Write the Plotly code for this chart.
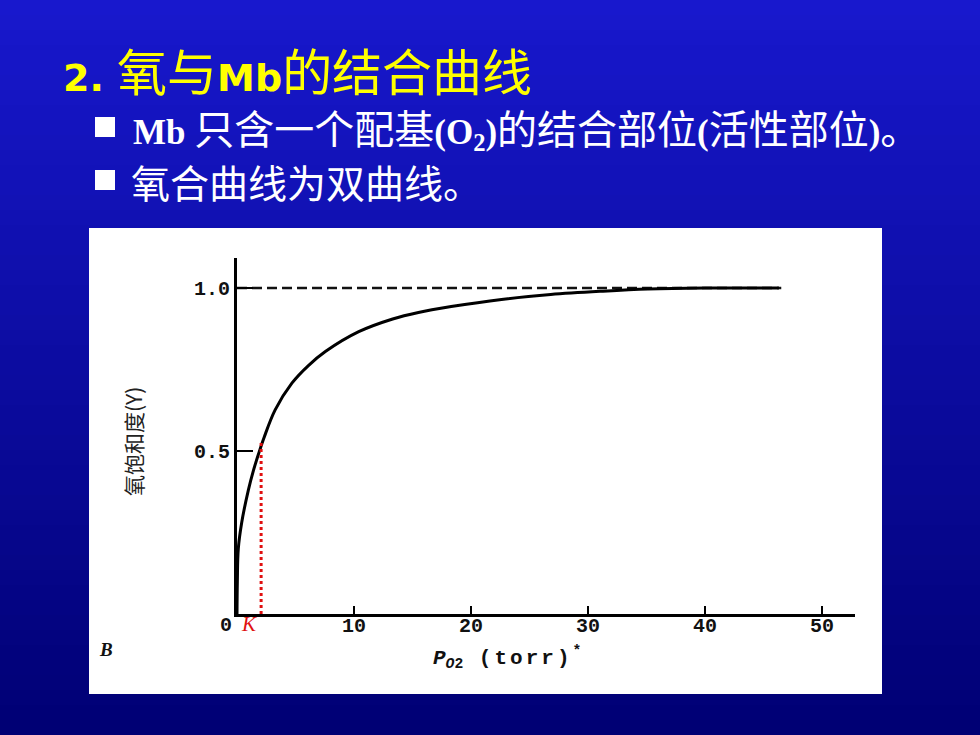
import plotly.graph_objects as go

# ---------------- data ----------------
po2_torr = [0, 0.03, 0.11, 0.4, 0.97, 1.4, 1.83, 2.3, 3.26, 4.69, 6.1, 7.55,
            10.4, 13.3, 15.5, 18.3, 22.6, 26.8, 31.1, 35.1, 40.0, 46.3]
saturation_y = [0.0, 0.10, 0.20, 0.28, 0.38, 0.44, 0.49, 0.54, 0.626, 0.708, 0.762, 0.805,
                0.866, 0.905, 0.925, 0.943, 0.965, 0.98, 0.99, 0.997, 1.0, 1.0]
max_line_x = [0, 46.5]
max_line_y = [1.0, 1.0]
k_value = 2.06
k_top_y = 0.53
x_tick_vals = [10, 20, 30, 40, 50]
x_tick_text = ["10", "20", "30", "40", "50"]
y_tick_vals = [0.5, 1.0]
y_tick_text = ["0.5", "1.0"]

W, H = 980, 735


def px(x):
    return x / W


def py(y):
    return 1 - y / H


fig = go.Figure()

fig.add_trace(go.Scatter(x=max_line_x, y=max_line_y, mode="lines",
                         line=dict(color="#111", width=2.5, dash="10px,5px"),
                         hoverinfo="skip", showlegend=False))
fig.add_trace(go.Scatter(x=po2_torr, y=saturation_y, mode="lines",
                         line=dict(color="#000", width=3, shape="spline", smoothing=1.0),
                         showlegend=False))
fig.add_trace(go.Scatter(x=[k_value, k_value], y=[0, k_top_y], mode="lines",
                         line=dict(color="#e01010", width=3, dash="dot"),
                         hoverinfo="skip", showlegend=False))

shapes = []
# background gradient (vertical)
n = 49
top = (24, 24, 205)
bot = (0, 0, 116)
for i in range(n):
    t = i / (n - 1)
    c = tuple(round(top[j] + (bot[j] - top[j]) * t) for j in range(3))
    y0 = i * H / n
    y1 = (i + 1) * H / n + 1
    shapes.append(dict(type="rect", xref="paper", yref="paper", x0=0, x1=1,
                       y0=py(min(y1, H)), y1=py(y0), line=dict(width=0),
                       fillcolor="rgb(%d,%d,%d)" % c, layer="below"))
# white figure panel
shapes.append(dict(type="rect", xref="paper", yref="paper", x0=px(89), x1=px(882),
                   y0=py(694), y1=py(228), line=dict(width=0), fillcolor="white",
                   layer="below"))
# bullets
for cy in (127, 180):
    shapes.append(dict(type="rect", xref="paper", yref="paper", x0=px(95), x1=px(115),
                       y0=py(cy + 10), y1=py(cy - 10), line=dict(width=0),
                       fillcolor="white", layer="above"))

CJK = "Noto Sans CJK SC"
SER = "font-family:Liberation Serif;font-weight:bold"
LAT = "font-family:DejaVu Sans;font-weight:bold;font-size:38px"
MONO = "Liberation Mono"
AXFONT = dict(family=MONO, size=20, color="#111", weight="bold")

annotations = [
    dict(text='<span style="%s">2. </span>氧与<span style="%s">Mb</span>的结合曲线' % (LAT, LAT),
         x=px(61), y=py(69), xanchor="left", yanchor="middle",
         font=dict(family=CJK, size=50, color="#ffff00")),
    dict(text='<span style="%s;font-size:35px">Mb </span>只含一个配基'
              '<span style="%s;font-size:35px">(O<sub style="font-size:24px">2</sub>)</span>的结合部位'
              '<span style="%s;font-size:35px">(</span>活性部位'
              '<span style="%s;font-size:35px">)</span>。' % (SER, SER, SER, SER),
         x=px(131), y=py(127), xanchor="left", yanchor="middle",
         font=dict(family=CJK, size=40, color="white")),
    dict(text="氧合曲线为双曲线。",
         x=px(129), y=py(181), xanchor="left", yanchor="middle",
         font=dict(family=CJK, size=39, color="white")),
    dict(text="氧饱和度(Y)", textangle=-90, x=px(133), y=py(442),
         xanchor="center", yanchor="middle",
         font=dict(family=CJK, size=21, color="#222")),
    dict(text='<i>P</i><sub><i>O</i>2</sub><span style="letter-spacing:3px"> (torr)</span><sup>*</sup>',
         x=px(507), y=py(657), xanchor="center", yanchor="middle",
         font=dict(family=MONO, size=21, color="#111", weight="bold")),
    dict(text="<b><i>B</i></b>", x=px(106), y=py(649), xanchor="center", yanchor="middle",
         font=dict(family="Liberation Serif", size=19, color="#111")),
    dict(text="<i>K</i>", x=px(249), y=py(624), xanchor="center", yanchor="middle",
         font=dict(family="Liberation Serif", size=21, color="#e01010")),
    dict(text="0", x=px(226), y=py(625), xanchor="center", yanchor="middle", font=AXFONT),
]
# x tick labels placed at their data positions just under the axis
for v, t in zip(x_tick_vals, x_tick_text):
    annotations.append(dict(text=t, x=v, xref="x", y=py(626), yref="paper",
                            xanchor="center", yanchor="middle", font=AXFONT))
for a in annotations:
    a.setdefault("xref", "paper")
    a.setdefault("yref", "paper")
    a.setdefault("showarrow", False)

fig.update_layout(
    width=W, height=H,
    margin=dict(l=0, r=0, t=0, b=0),
    paper_bgcolor="rgb(10,10,160)",
    plot_bgcolor="rgba(0,0,0,0)",
    shapes=shapes,
    annotations=annotations,
    showlegend=False,
    xaxis=dict(domain=[px(237), px(855)], range=[0, 52.8], showgrid=False, zeroline=False,
               showline=True, linecolor="#000", linewidth=3,
               ticks="inside", ticklen=8, tickwidth=2, tickcolor="#000",
               tickvals=x_tick_vals, ticktext=x_tick_text, showticklabels=False,
               fixedrange=True),
    yaxis=dict(domain=[py(614), py(258)], range=[0, 1.092], showgrid=False, zeroline=False,
               showline=True, linecolor="#000", linewidth=3,
               ticks="inside", ticklen=16, tickwidth=2, tickcolor="#000",
               tickvals=y_tick_vals, ticktext=y_tick_text,
               tickfont=AXFONT, fixedrange=True),
)

fig.write_html("out.html", config={"displayModeBar": False},
               post_script="document.body.style.margin='0';")
